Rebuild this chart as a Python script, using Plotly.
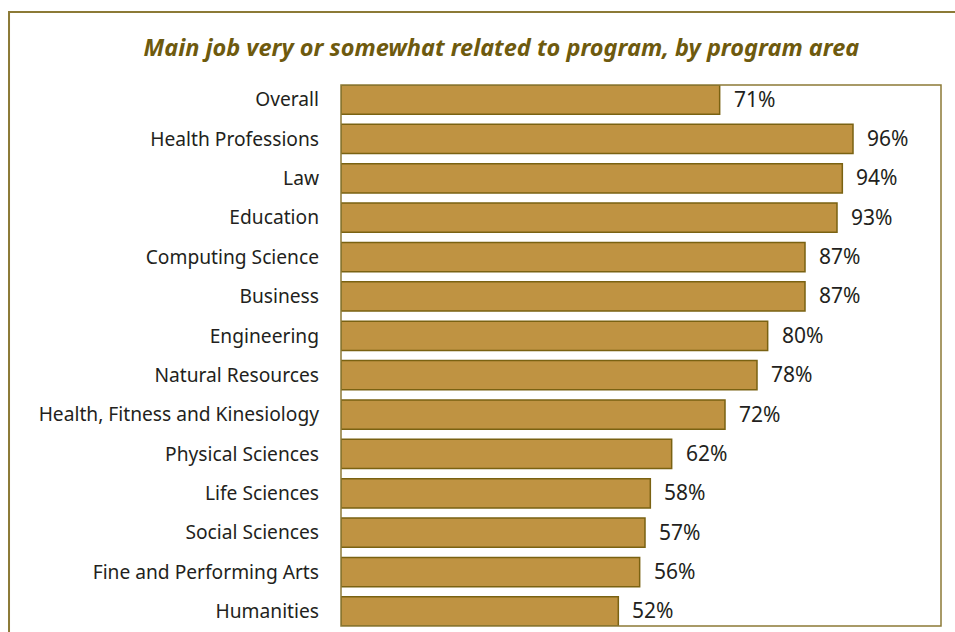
import plotly.graph_objects as go

# Share of graduates whose main job is very or somewhat related to their program
categories = [
    "Overall", "Health Professions", "Law", "Education", "Computing Science",
    "Business", "Engineering", "Natural Resources",
    "Health, Fitness and Kinesiology", "Physical Sciences", "Life Sciences",
    "Social Sciences", "Fine and Performing Arts", "Humanities",
]
values = [71, 96, 94, 93, 87, 87, 80, 78, 72, 62, 58, 57, 56, 52]
value_labels = [f"{v}%" for v in values]

BAR_FILL = "#BF9342"
BAR_EDGE = "#7A6212"
FRAME = "#8C7A36"
TITLE_COLOR = "#6E5A0E"
TEXT_COLOR = "#231F20"
FONT = "Noto Sans"

fig = go.Figure(
    go.Bar(
        x=values,
        y=categories,
        orientation="h",
        width=0.74,
        marker=dict(color=BAR_FILL, line=dict(color=BAR_EDGE, width=1.5)),
        hoverinfo="skip",
    )
)

# Value labels to the right of each bar
for cat, v, lab in zip(categories, values, value_labels):
    fig.add_annotation(
        x=v, y=cat, text=lab, xref="x", yref="y",
        xanchor="left", yanchor="middle", xshift=12, yshift=1,
        showarrow=False,
        font=dict(family=FONT, size=21, color=TEXT_COLOR),
    )

# Plot-area frame and outer panel border
fig.add_shape(type="rect", xref="paper", yref="paper", x0=0, x1=1, y0=0, y1=1,
              line=dict(color=FRAME, width=1.5), layer="above")
fig.add_shape(type="rect", xref="paper", yref="paper",
              x0=-0.5533, x1=1.05, y0=-0.05, y1=1.1349,
              line=dict(color=FRAME, width=2), layer="above")

fig.update_layout(
    width=955, height=632,
    margin=dict(l=341, r=14, t=85, b=6),
    paper_bgcolor="white", plot_bgcolor="white",
    showlegend=False,
    title=dict(
        text="<b><i>Main job very or somewhat related to program, by program area</i></b>",
        x=0.525, xanchor="center", y=0.925, yanchor="middle",
        font=dict(family=FONT, size=23.5, color=TITLE_COLOR),
    ),
    xaxis=dict(range=[0, 112.5], visible=False, fixedrange=True),
    yaxis=dict(
        range=[13.37, -0.37], showgrid=False, zeroline=False, showline=False,
        ticks="", ticklabelstandoff=21,
        tickfont=dict(family=FONT, size=19.2, color=TEXT_COLOR),
        fixedrange=True,
    ),
    font=dict(family=FONT),
)

fig.write_html("out.html")
